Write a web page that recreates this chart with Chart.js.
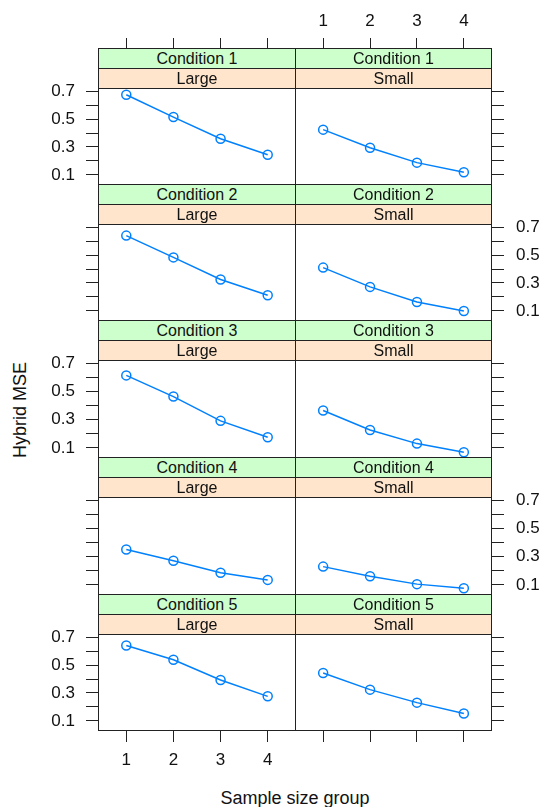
<!DOCTYPE html>
<html><head><meta charset="utf-8">
<script src="https://cdn.jsdelivr.net/npm/chart.js@4"></script>
<style>
html,body{margin:0;padding:0;background:#fff}
body{width:543px;height:807px;overflow:hidden;position:relative;font-family:Arial,"Liberation Sans",sans-serif}
canvas.cv{position:absolute}
.strip{position:absolute;box-sizing:border-box;border:1px solid #222;text-align:center;font-size:16px;line-height:19px;color:#111;z-index:2}
.title{position:absolute;font-size:18px;color:#111;white-space:nowrap}
</style></head><body>
<script>
// ---- data ----
const sampleSizeGroups = [1, 2, 3, 4];
const conditions = ['Condition 1', 'Condition 2', 'Condition 3', 'Condition 4', 'Condition 5'];
const sizes = ['Large', 'Small'];
const largeMSE = [
  [0.674, 0.514, 0.359, 0.245],
  [0.639, 0.483, 0.325, 0.212],
  [0.613, 0.463, 0.291, 0.175],
  [0.350, 0.270, 0.185, 0.135],
  [0.640, 0.538, 0.393, 0.276]
];
const smallMSE = [
  [0.424, 0.295, 0.188, 0.119],
  [0.410, 0.272, 0.164, 0.100],
  [0.364, 0.226, 0.130, 0.069],
  [0.229, 0.161, 0.105, 0.076],
  [0.443, 0.324, 0.231, 0.153]
];
const yTickValues = [0.1, 0.2, 0.3, 0.4, 0.5, 0.6, 0.7];
const yTickLabels = ['0.1', '0.3', '0.5', '0.7'];
const xTickValues = [1, 2, 3, 4];
const yAxisTitle = 'Hybrid MSE';
const xAxisTitle = 'Sample size group';

// ---- layout ----
const colLeft = [98, 295];
const colWidth = [198, 197];
const plotTops = [88, 224, 360, 497, 634];
const stripH = 20;
const lastPlotH = 97;
const yMin = 0.028, yMax = 0.722, xMin = 0.4, xMax = 4.6;
const PAD = 14;
const LEFT_AXIS_W = 60, RIGHT_AXIS_W = 48;
const TOP_AXIS_H = 88, BOTTOM_AXIS_H = 50;
const FONT = 'Arial, "Liberation Sans", sans-serif';

const framePlugin = {
  id: 'frame',
  afterDraw(chart) {
    const a = chart.chartArea, ctx = chart.ctx;
    ctx.save();
    ctx.strokeStyle = '#222';
    ctx.lineWidth = 1;
    ctx.strokeRect(a.left + 0.5, a.top + 0.5, a.right - a.left - 1, a.bottom - a.top - 1);
    ctx.restore();
  }
};

function makePanel(r, c) {
  const values = c === 0 ? largeMSE[r] : smallMSE[r];
  const isTop = r === 0, isBottom = r === conditions.length - 1;
  const yLabeled = (c === 0) ? (r % 2 === 0) : (r % 2 === 1);
  const xLabeled = (isTop && c === 1) || (isBottom && c === 0);
  const showX = isTop || isBottom;
  const plotH = isBottom ? lastPlotH : plotTops[r + 1] - 2 * stripH - plotTops[r] + 1;

  const axisW = c === 0 ? LEFT_AXIS_W : RIGHT_AXIS_W;
  const padTop = isTop ? 0 : PAD;
  const padBottom = isBottom ? 0 : PAD;
  const topH = isTop ? TOP_AXIS_H : 0;
  const botH = isBottom ? BOTTOM_AXIS_H : 0;

  const cv = document.createElement('canvas');
  cv.className = 'cv';
  const left = c === 0 ? colLeft[c] - axisW : colLeft[c];
  const top = isTop ? 0 : plotTops[r] - PAD;
  const width = colWidth[c] + axisW;
  const height = padTop + topH + plotH + botH + padBottom;
  cv.style.left = left + 'px';
  cv.style.top = top + 'px';
  cv.style.width = width + 'px';
  cv.style.height = height + 'px';
  cv.width = width; cv.height = height;
  document.body.appendChild(cv);

  new Chart(cv, {
    type: 'line',
    data: {
      datasets: [{
        data: sampleSizeGroups.map((g, i) => ({ x: g, y: values[i] })),
        borderColor: '#0080ff',
        borderWidth: 1.5,
        pointRadius: 4.5,
        pointBorderWidth: 1.5,
        pointBackgroundColor: 'rgba(0,0,0,0)',
        pointBorderColor: '#0080ff',
        tension: 0,
        fill: false
      }]
    },
    options: {
      responsive: false,
      animation: false,
      events: [],
      layout: { autoPadding: false, padding: { top: padTop, bottom: padBottom, left: 0, right: 0 } },
      plugins: { legend: { display: false }, tooltip: { enabled: false } },
      scales: {
        x: {
          type: 'linear',
          position: isTop ? 'top' : 'bottom',
          display: showX,
          min: xMin, max: xMax,
          afterBuildTicks: s => { s.ticks = xTickValues.map(v => ({ value: v })); },
          afterFit: s => {
            if (showX) s.height = isTop ? TOP_AXIS_H : BOTTOM_AXIS_H;
            s.paddingLeft = 0; s.paddingRight = 0;
          },
          grid: { drawOnChartArea: false, drawTicks: true, tickLength: isTop ? 50 : 11, color: '#222', lineWidth: 1 },
          border: { display: false },
          ticks: {
            padding: isTop ? 6 : 8,
            color: '#111',
            font: { size: 17, family: FONT },
            maxRotation: 0,
            autoSkip: false,
            callback: v => xLabeled ? String(v) : ''
          }
        },
        y: {
          type: 'linear',
          position: c === 0 ? 'left' : 'right',
          min: yMin, max: yMax,
          afterBuildTicks: s => { s.ticks = yTickValues.map(v => ({ value: v })); },
          afterFit: s => { s.width = axisW; s.paddingTop = 0; s.paddingBottom = 0; },
          grid: { drawOnChartArea: false, drawTicks: true, tickLength: 12, color: '#222', lineWidth: 1 },
          border: { display: false },
          ticks: {
            padding: c === 0 ? 11 : 12,
            color: '#111',
            font: { size: 17, family: FONT },
            autoSkip: false,
            callback: v => {
              const s = v.toFixed(1);
              return (yLabeled && yTickLabels.includes(s)) ? s : '';
            }
          }
        }
      }
    },
    plugins: [framePlugin]
  });

  // strips (outer: condition, inner: size)
  const s1 = document.createElement('div');
  s1.className = 'strip';
  s1.style.background = '#CCFFCC';
  s1.style.left = colLeft[c] + 'px';
  s1.style.width = colWidth[c] + 'px';
  s1.style.top = (plotTops[r] - 2 * stripH) + 'px';
  s1.style.height = (stripH + 1) + 'px';
  s1.textContent = conditions[r];
  document.body.appendChild(s1);
  const s2 = document.createElement('div');
  s2.className = 'strip';
  s2.style.background = '#FFE5CC';
  s2.style.left = colLeft[c] + 'px';
  s2.style.width = colWidth[c] + 'px';
  s2.style.top = (plotTops[r] - stripH) + 'px';
  s2.style.height = (stripH + 1) + 'px';
  s2.textContent = sizes[c];
  document.body.appendChild(s2);
}

for (let r = 0; r < conditions.length; r++) {
  for (let c = 0; c < sizes.length; c++) makePanel(r, c);
}

const xt = document.createElement('div');
xt.className = 'title';
xt.textContent = xAxisTitle;
xt.style.left = '295px';
xt.style.top = '788px';
xt.style.transform = 'translateX(-50%)';
document.body.appendChild(xt);

const yt = document.createElement('div');
yt.className = 'title';
yt.textContent = yAxisTitle;
yt.style.left = '20px';
yt.style.top = '410px';
yt.style.transform = 'translate(-50%,-50%) rotate(-90deg)';
document.body.appendChild(yt);
</script>
</body></html>
